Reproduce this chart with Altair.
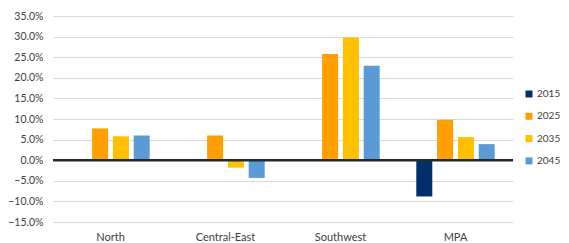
import altair as alt
import pandas as pd

regions = ["North", "Central-East", "Southwest", "MPA"]
years = ["2015", "2025", "2035", "2045"]
v2015 = [None, None, None, -8.8]
v2025 = [7.7, 6.0, 25.8, 9.8]
v2035 = [5.8, -1.8, 29.8, 5.6]
v2045 = [6.0, -4.3, 22.9, 3.9]
colors = ["#002F6C", "#FFA000", "#FFC000", "#5B9BD5"]

rows = []
for yr, vals in zip(years, [v2015, v2025, v2035, v2045]):
    for r, v in zip(regions, vals):
        if v is not None:
            rows.append({"region": r, "year": yr, "value": v / 100})
df = pd.DataFrame(rows)

ticks = [x / 100 for x in range(-15, 40, 5)]
FONT = "Lato"
TXT = "#404040"

y_axis = alt.Axis(values=ticks, format=".1%", ticks=False, domain=False,
                  labelOverlap=False, labelPadding=10,
                  gridColor="#D9D9D9", gridWidth=1,
                  labelFont=FONT, labelFontSize=10.5, labelColor=TXT)
y_scale = alt.Scale(domain=[-0.15, 0.35], nice=False)

bars = alt.Chart(df).mark_bar(size=16).encode(
    x=alt.X("region:N", sort=regions, title=None,
            scale=alt.Scale(paddingInner=0.32, paddingOuter=0.16),
            axis=alt.Axis(labelAngle=0, ticks=False, domain=False, labelPadding=9,
                          labelFont=FONT, labelFontSize=11, labelColor=TXT)),
    xOffset=alt.XOffset("year:N", sort=years, scale=alt.Scale(domain=years, paddingInner=0.24)),
    y=alt.Y("value:Q", title=None, scale=y_scale, axis=y_axis),
    color=alt.Color("year:N", sort=years,
                    scale=alt.Scale(domain=years, range=colors),
                    legend=alt.Legend(title=None, orient="none", legendX=471, legendY=73,
                                      symbolType="square", symbolSize=49,
                                      symbolStrokeWidth=0, labelOffset=3,
                                      rowPadding=12.3, labelFont=FONT,
                                      labelFontSize=10, labelColor=TXT)),
)

zero = alt.Chart(pd.DataFrame({"z": [0]})).mark_rule(color="#1F2A37", strokeWidth=2.5).encode(
    y=alt.Y("z:Q", title=None, scale=y_scale, axis=y_axis))

chart = (bars + zero).properties(
    width=460, height=206,
    autosize=alt.AutoSizeParams(type="none"),
    padding={"left": 45, "top": 8, "right": 48, "bottom": 21},
).configure_view(stroke=None)

chart.save("out.html", embed_options={"renderer": "svg", "actions": False})
